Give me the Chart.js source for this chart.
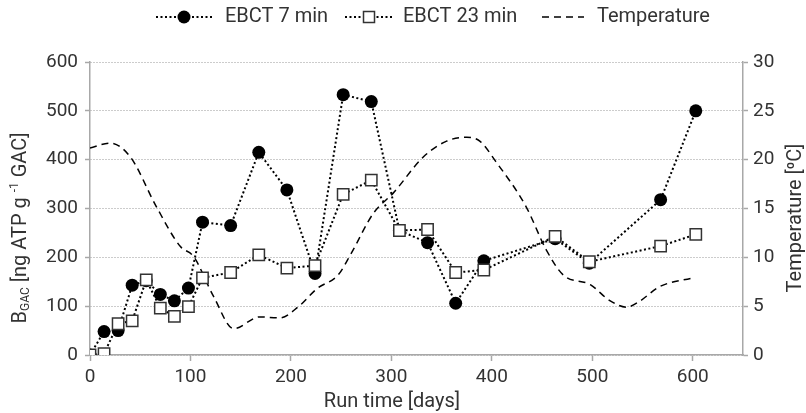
<!DOCTYPE html>
<html>
<head>
<meta charset="utf-8">
<script src="https://cdn.jsdelivr.net/npm/chart.js@4.4.0/dist/chart.umd.min.js"></script>
<style>
html, body { margin: 0; padding: 0; background: #fff; }
</style>
</head>
<body>
<canvas id="c" width="806" height="413"></canvas>
<script>
// sampling days (run time) and the two biomass series
var days = [0, 14, 28, 42, 56, 70, 84, 98, 112, 140, 168, 196, 224, 252, 280, 308, 336, 364, 392, 463, 497, 568, 603];
var ebct7 = [0, 48, 50, 143, 152, 124, 111, 137, 272, 265, 415, 338, 167, 533, 519, 255, 230, 106, 193, 238, 188, 318, 500];
var ebct23 = [0, 3, 64, 70, 154, 96, 79, 99, 158, 169, 205, 178, 183, 329, 358, 255, 257, 169, 174, 243, 191, 223, 247];
// temperature curve
var tempDays = [0, 20, 40, 66, 90, 103, 123, 143, 169, 189, 208, 226, 247, 260, 282, 302, 332, 355, 375, 388, 404, 434, 454, 471, 498, 517, 534, 547, 567, 600];
var temp = [21.2, 21.7, 20.3, 15.2, 11.1, 10.1, 6, 2.7, 3.9, 3.8, 5, 6.8, 8.2, 10.4, 14.5, 16.6, 20.3, 21.9, 22.3, 21.9, 19.8, 15.2, 10.8, 8.2, 7.2, 5.6, 4.9, 5.5, 7, 7.9];
var labels = ['EBCT 7 min', 'EBCT 23 min', 'Temperature'];

var txt = '#333';
var axisCol = '#a8a8a8';
var font = 'Roboto';

function pts(xs, ys) {
     return xs.map(function (x, i) { return { x: x, y: ys[i] }; });
}

// legend + axis titles (titles need sub/superscripts)
var overlay = {
     id: 'overlay',
     afterDraw: function (chart) {
          var ctx = chart.ctx;
          ctx.save();
          ctx.fillStyle = txt;
          ctx.strokeStyle = '#000';
          ctx.textBaseline = 'middle';
          ctx.font = '20px ' + font;
          var ly = 17;

          // item 1
          ctx.lineWidth = 2;
          ctx.setLineDash([2, 2.5]);
          ctx.beginPath(); ctx.moveTo(156, ly); ctx.lineTo(212, ly); ctx.stroke();
          ctx.setLineDash([]);
          ctx.beginPath(); ctx.arc(184, ly, 6.5, 0, Math.PI * 2); ctx.fillStyle = '#000'; ctx.fill();
          ctx.fillStyle = txt;
          ctx.fillText(labels[0], 225, ly);

          // item 2
          ctx.setLineDash([2, 2.5]);
          ctx.beginPath(); ctx.moveTo(345, ly); ctx.lineTo(393, ly); ctx.stroke();
          ctx.setLineDash([]);
          ctx.fillStyle = '#fff';
          ctx.fillRect(363.5, ly - 5.5, 11, 11);
          ctx.lineWidth = 1.5; ctx.strokeStyle = '#333';
          ctx.strokeRect(363.5, ly - 5.5, 11, 11);
          ctx.fillStyle = txt;
          ctx.fillText(labels[1], 403, ly);

          // item 3
          ctx.strokeStyle = '#000'; ctx.lineWidth = 1.5;
          ctx.setLineDash([7, 5]);
          ctx.beginPath(); ctx.moveTo(542, ly); ctx.lineTo(584, ly); ctx.stroke();
          ctx.setLineDash([]);
          ctx.fillText(labels[2], 597, ly);

          // x title
          ctx.textAlign = 'center';
          ctx.fillText('Run time [days]', 392, 402);

          // left title, rotated
          ctx.save();
          ctx.translate(21, 228);
          ctx.rotate(-Math.PI / 2);
          var parts = [
               ['B', '20px', 0],
               ['GAC', '12px', 5],
               [' [ng ATP g ', '20px', 0],
               ['-1', '12px', -6],
               [' GAC]', '20px', 0]
          ];
          var tot = 0;
          parts.forEach(function (p) { ctx.font = p[1] + ' ' + font; tot += ctx.measureText(p[0]).width; });
          var x = -tot / 2;
          ctx.textAlign = 'left';
          parts.forEach(function (p) {
               ctx.font = p[1] + ' ' + font;
               ctx.fillText(p[0], x, p[2]);
               x += ctx.measureText(p[0]).width;
          });
          ctx.restore();

          // right title
          ctx.save();
          ctx.translate(796, 218);
          ctx.rotate(-Math.PI / 2);
          ctx.font = '20px ' + font;
          ctx.textAlign = 'center';
          ctx.fillText('Temperature [\u2070C]', 0, 0);
          ctx.restore();

          ctx.restore();
     }
};

new Chart(document.getElementById('c'), {
     type: 'line',
     data: {
          datasets: [{
               label: labels[0],
               data: pts(days, ebct7),
               yAxisID: 'y',
               borderColor: '#000',
               borderWidth: 2,
               borderDash: [2, 2.5],
               pointStyle: 'circle',
               pointRadius: 6.5,
               pointBackgroundColor: '#000',
               pointBorderColor: '#000',
               pointBorderWidth: 0,
               tension: 0,
               order: 2
          }, {
               label: labels[1],
               data: pts(days, ebct23),
               yAxisID: 'y',
               borderColor: '#000',
               borderWidth: 2,
               borderDash: [2, 2.5],
               pointStyle: 'rect',
               pointRadius: 8,
               pointBackgroundColor: '#fff',
               pointBorderColor: '#333',
               pointBorderWidth: 1.5,
               tension: 0,
               order: 1
          }, {
               label: labels[2],
               data: pts(tempDays, temp),
               yAxisID: 'y2',
               borderColor: '#000',
               borderWidth: 1.5,
               borderDash: [7, 5],
               pointRadius: 0,
               cubicInterpolationMode: 'monotone',
               order: 3
          }]
     },
     options: {
          responsive: false,
          animation: false,
          devicePixelRatio: 1,
          layout: { padding: { top: 62, left: 0, right: 0, bottom: 0 } },
          plugins: { legend: { display: false }, tooltip: { enabled: false } },
          scales: {
               x: {
                    type: 'linear',
                    min: 0,
                    max: 650,
                    afterBuildTicks: function (s) { s.ticks = s.ticks.filter(function (t) { return t.value <= 600; }); },
                    afterFit: function (s) { s.height = 58; },
                    ticks: { stepSize: 100, color: txt, font: { family: font, size: 19 }, padding: 5, maxRotation: 0 },
                    grid: { drawOnChartArea: false, tickLength: 6, tickColor: axisCol, tickWidth: 1.5 },
                    border: { color: axisCol, width: 1.5 }
               },
               y: {
                    position: 'left',
                    min: 0,
                    max: 600,
                    afterFit: function (s) { s.width = 90; },
                    ticks: { stepSize: 100, color: txt, font: { family: font, size: 19 }, padding: 7 },
                    grid: { color: '#999', lineWidth: 1, tickLength: 5, tickColor: axisCol, tickWidth: 1.5, tickBorderDash: [] },
                    border: { color: axisCol, width: 1.5, dash: [1, 2] }
               },
               y2: {
                    position: 'right',
                    min: 0,
                    max: 30,
                    afterFit: function (s) { s.width = 63; },
                    ticks: { stepSize: 5, color: txt, font: { family: font, size: 19 }, padding: 5 },
                    grid: { drawOnChartArea: false, tickLength: 5, tickColor: axisCol, tickWidth: 1.5 },
                    border: { color: axisCol, width: 1.5 }
               }
          }
     },
     plugins: [overlay]
});
</script>
</body>
</html>
